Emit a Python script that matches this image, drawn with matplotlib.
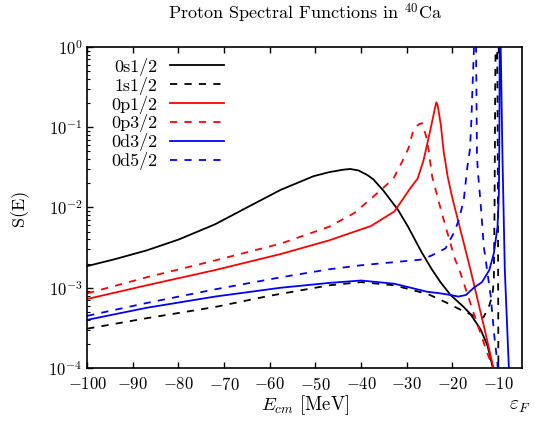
import numpy as np
import matplotlib
matplotlib.use('Agg')
from matplotlib import pyplot as plt

plt.rcParams['font.family'] = 'cmr10'
plt.rcParams['mathtext.fontset'] = 'cm'
plt.rcParams['axes.formatter.use_mathtext'] = True
plt.rcParams['axes.unicode_minus'] = False

# values: energy [MeV] and log10 of S(E)
x_0s12 = [-100, -94, -87, -80, -72, -65, -57.6, -50.4, -47, -44, -42.4, -40.5, -38.5, -37.3,
          -35.1, -33.5, -31.9, -29.7, -26.8, -24.5, -22.6, -20.4, -17.5, -16.0, -13.8,
          -12.3, -11.2, -10.8]
lg_0s12 = [-2.73, -2.645, -2.535, -2.40, -2.21, -2.0, -1.78, -1.61, -1.56, -1.53, -1.52, -1.54,
           -1.60, -1.65, -1.79, -1.91, -2.03, -2.24, -2.55, -2.77, -2.93, -3.09, -3.24, -3.33,
           -3.52, -3.72, -3.98, -4.1]

x_1s12 = [-100, -87, -72, -60, -47, -40, -32.7, -25.3, -21.5, -18, -14.5, -13.2, -12.0,
          -11.2, -10.9, -10.75, -10.6, -10.45, -10.25, -10.1, -10.0, -9.9]
lg_1s12 = [-3.51, -3.38, -3.24, -3.10, -2.97, -2.93, -2.97, -3.08, -3.18, -3.28, -3.37, -3.37, -3.24,
           -3.09, -2.9, -2.0, -0.5, 0.5, 0.5, -0.5, -2.0, -4.2]

x_0p12 = [-100, -87, -72, -57.6, -47, -37.8, -32.7, -29.2, -27.6, -26.3, -24.8, -23.8, -23.5,
          -23.2, -22.5, -21.9, -21.0, -20.0, -18.0, -16.0, -13.0, -10.9, -10.6]
lg_0p12 = [-3.14, -2.97, -2.78, -2.58, -2.41, -2.23, -2.05, -1.76, -1.64, -1.41, -1.03, -0.76, -0.69,
           -0.73, -0.98, -1.30, -1.62, -1.88, -2.33, -2.78, -3.5, -4.02, -4.1]

x_0p32 = [-100, -87, -72, -57.6, -47, -41.5, -35.6, -32.9, -31.0, -29.6, -28.5, -27.3, -26.6,
          -25.5, -24.4, -22.4, -19.5, -18.2, -15.3, -12.3, -11.2, -10.9]
lg_0p32 = [-3.07, -2.87, -2.66, -2.45, -2.24, -2.07, -1.78, -1.64, -1.43, -1.26, -1.03, -0.96, -0.95,
           -1.16, -1.62, -2.05, -2.63, -2.82, -3.32, -3.82, -3.98, -4.1]

x_0d32 = [-100, -87, -72, -57.6, -47, -40, -32.7, -25.5, -22.6, -20.4, -18.7, -17.0, -15.3,
          -13.5, -11.9, -10.9, -10.1, -9.8, -9.7, -9.6, -9.4, -9.0, -8.5, -7.6, -7.4]
lg_0d32 = [-3.40, -3.25, -3.11, -3.0, -2.94, -2.91, -2.95, -3.05, -3.07, -3.09, -3.11, -3.09, -3.0,
           -2.93, -2.78, -2.57, -2.24, -1.82, -1.2, 0.3, 0.0, -1.41, -2.78, -4.02, -4.3]

x_0d52 = [-100, -87, -72, -57.6, -47, -40, -27.0, -24.6, -21.5, -19.7, -18.6, -17.5, -16.7,
          -16.15, -15.85, -15.6, -15.27, -15.0, -14.8, -14.6, -14.4, -13.8, -13.1, -12.7,
          -11.6, -10.8, -10.1, -9.9]
lg_0d52 = [-3.35, -3.19, -3.02, -2.87, -2.77, -2.72, -2.65, -2.60, -2.51, -2.32, -2.16, -1.91, -1.49,
           -1.28, -0.95, -0.54, -0.04, 0.5, 0.0, -1.36, -1.55, -1.95, -2.49, -2.65,
           -3.1, -3.6, -3.95, -4.2]

labels = ['0s1/2', '1s1/2', '0p1/2', '0p3/2', '0d3/2', '0d5/2']
colors = ['black', 'black', '#ff0000', '#ff0000', '#0000ff', '#0000ff']
dashed = [False, True, False, True, False, True]
series = [(x_0s12, lg_0s12), (x_1s12, lg_1s12), (x_0p12, lg_0p12),
          (x_0p32, lg_0p32), (x_0d32, lg_0d32), (x_0d52, lg_0d52)]

fig = plt.figure(figsize=(5.35, 4.23), dpi=100)
ax = fig.add_axes([0.163, 0.13, 0.813, 0.759])

for (xs, lg), lab, c, d in zip(series, labels, colors, dashed):
    ls = (0, (4, 4)) if d else '-'
    ax.plot(xs, 10.0 ** np.array(lg), color=c, lw=1.3, ls=ls, label=lab)

ax.set_yscale('log')
ax.set_xlim(-100, -4.7)
ax.set_ylim(1e-4, 1)
ax.set_xticks(np.arange(-100, -9, 10))

ax.tick_params(which='both', direction='in', top=True, right=False, labelsize=12)
ax.tick_params(which='major', length=4, width=1)
ax.tick_params(which='minor', length=2.2, width=0.8)
ax.tick_params(axis='x', which='minor', top=False, bottom=False)
ax.tick_params(axis='x', pad=6)
for sp in ax.spines.values():
    sp.set_linewidth(1.2)

ax.set_xlabel(r'$E_{cm}$ [MeV]', fontsize=13.5, labelpad=0)
ax.set_ylabel('S(E)', fontsize=13, labelpad=14)
ax.set_title(r'Proton Spectral Functions in $^{40}$Ca', fontsize=13, pad=20)
ax.text(-5.3, -0.12, r'$\varepsilon_F$', fontsize=14, ha='center', va='center',
        transform=ax.get_xaxis_transform())

ax.legend(loc='upper left', bbox_to_anchor=(0.03, 1.0), markerfirst=False, frameon=False,
          fontsize=13, handlelength=3.0, handletextpad=0.7, labelspacing=0.05,
          borderaxespad=0.2)

plt.savefig('out.png', dpi=100)
